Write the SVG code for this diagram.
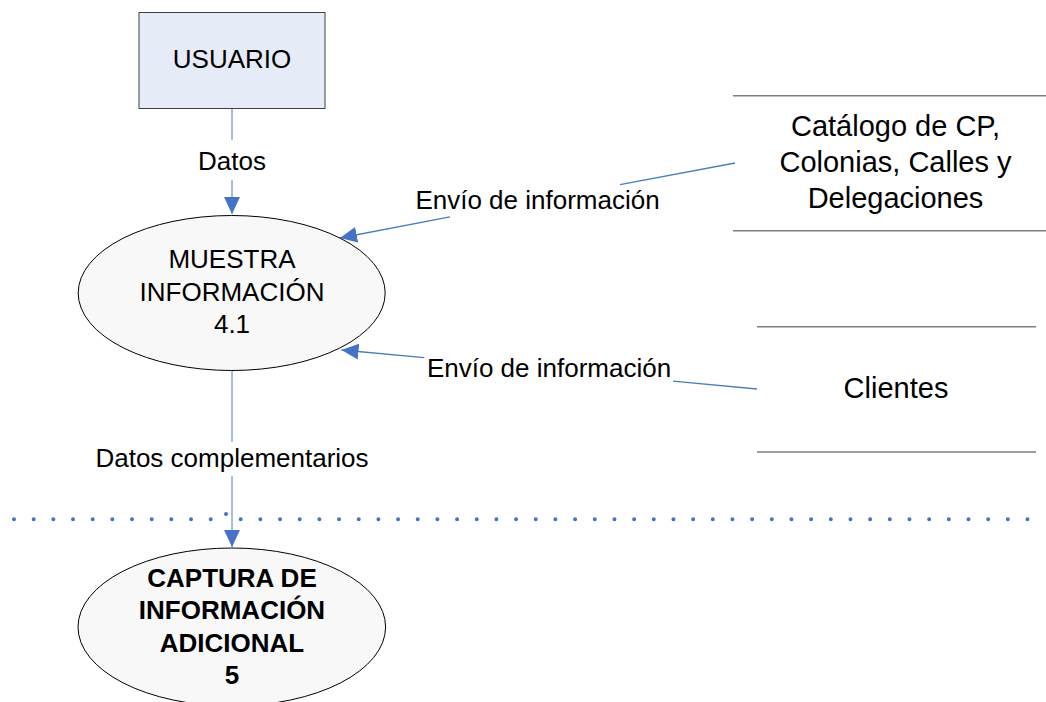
<svg xmlns="http://www.w3.org/2000/svg" width="1046" height="702" viewBox="0 0 1046 702">
<style>
.t{font-family:"Liberation Sans",Arial,sans-serif;font-size:26px;fill:#000;text-anchor:middle}
.b{font-weight:bold}
.s{font-size:29px}
.proc{fill:#F8F8F8;stroke:#000;stroke-width:1}
.store{stroke:#7F7F7F;stroke-width:1.5;fill:none}
.flow{stroke:#4A7EBB;stroke-width:1.3;fill:none}
.vflow{stroke:#4A7EBB;stroke-width:1;fill:none}
.dots{stroke:#4472C4;stroke-width:4;stroke-linecap:round;stroke-dasharray:0 19.67;fill:none}
</style>
<defs>
<marker id="ah" viewBox="0 0 17 16" refX="17" refY="8" markerWidth="17" markerHeight="16" markerUnits="userSpaceOnUse" orient="auto">
<path d="M0,0 L17,8 L0,16 z" fill="#4472C4"/>
</marker>
</defs>
<rect width="1046" height="702" fill="#fff"/>
<g id="boundary">
<path class="dots" d="M14,519.3 H212"/>
<path class="dots" d="M240.7,519.3 H1030"/>
<circle cx="226" cy="514" r="2" fill="#4472C4"/>
</g>
<g id="connectors">
<path class="vflow" d="M232,108 V140"/>
<path class="vflow" d="M232,180 V214" marker-end="url(#ah)"/>
<text class="t" x="232" y="170">Datos</text>
<path class="flow" d="M735,163 L620,184.7"/>
<path class="flow" d="M450,216.8 L340,238" marker-end="url(#ah)"/>
<text class="t" x="537.5" y="209">Envío de información</text>
<path class="flow" d="M757,389 L673,381.1"/>
<path class="flow" d="M424.3,357.7 L341.5,350" marker-end="url(#ah)"/>
<text class="t" x="549" y="376.5">Envío de información</text>
<path class="vflow" d="M232,370 V442"/>
<path class="vflow" d="M232,476 V547" marker-end="url(#ah)"/>
<text class="t" x="232" y="466.5">Datos complementarios</text>
</g>
<g id="usuario">
<rect x="139" y="12.5" width="186" height="96" fill="#E5ECF7" stroke="#404040" stroke-width="1"/>
<text class="t" x="232" y="68">USUARIO</text>
</g>
<g id="muestra">
<ellipse class="proc" cx="231.7" cy="293" rx="153.5" ry="77.5"/>
<text class="t" x="232" y="268">MUESTRA</text>
<text class="t" x="232" y="300.5">INFORMACIÓN</text>
<text class="t" x="232" y="333">4.1</text>
</g>
<g id="captura">
<ellipse class="proc" cx="231.8" cy="627" rx="153.8" ry="79"/>
<text class="t b" x="232" y="586.5">CAPTURA DE</text>
<text class="t b" x="232" y="619">INFORMACIÓN</text>
<text class="t b" x="232" y="651.5">ADICIONAL</text>
<text class="t b" x="232" y="684">5</text>
</g>
<g id="catalogo">
<path class="store" d="M733,95.7 H1046 M733,230.7 H1046"/>
<text class="t s" x="895.5" y="136">Catálogo de CP,</text>
<text class="t s" x="895.5" y="172">Colonias, Calles y</text>
<text class="t s" x="895.5" y="207.5">Delegaciones</text>
</g>
<g id="clientes">
<path class="store" d="M757,326.7 H1036 M757,452 H1036"/>
<text class="t s" x="896" y="398">Clientes</text>
</g>
</svg>
